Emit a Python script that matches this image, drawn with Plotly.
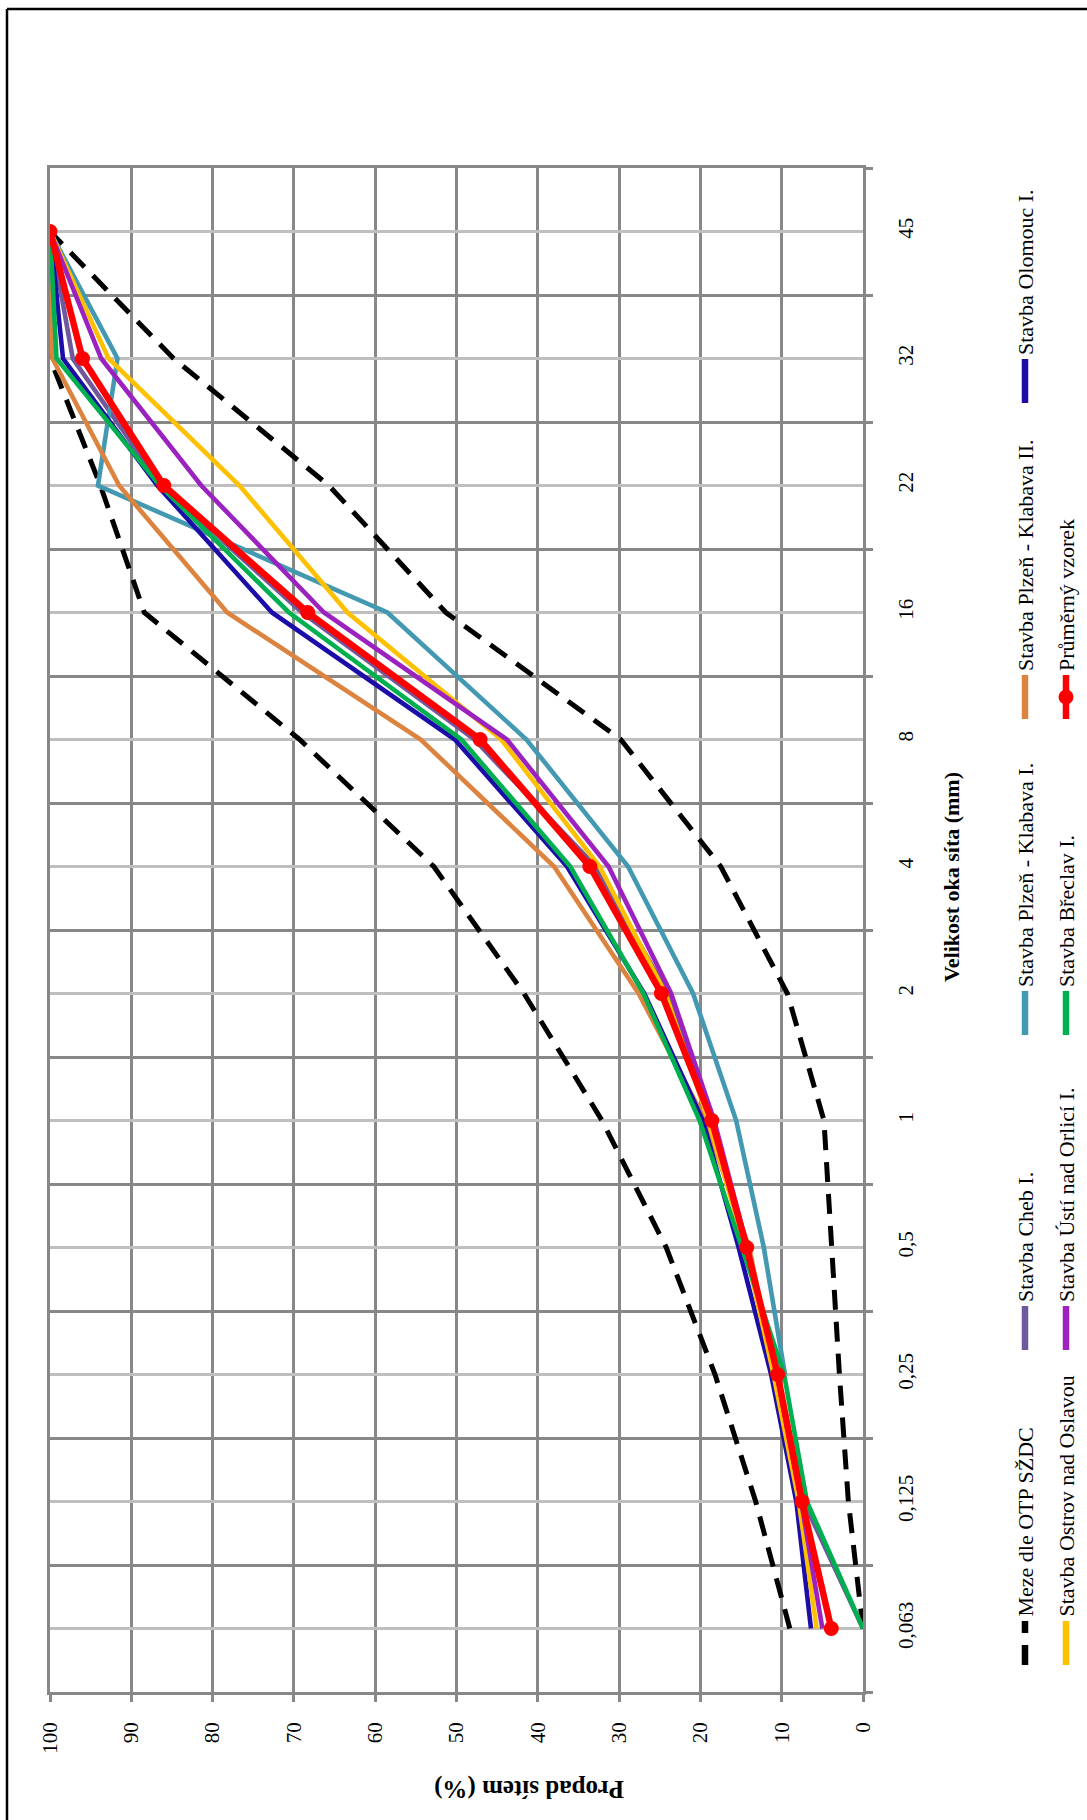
import plotly.graph_objects as go

# ---------------- data ----------------
categories = ["0,063", "0,125", "0,25", "0,5", "1", "2", "4", "8", "16", "22", "32", "45"]
pct_ticks = [0, 10, 20, 30, 40, 50, 60, 70, 80, 90, 100]

meze_upper = [9.0, 13.2, 18.2, 24.2, 32.1, 41.7, 52.8, 69.3, 88.4, 93.8, 100, 100]
meze_lower = [0.0, 1.8, 2.9, 3.9, 4.8, 9.3, 17.5, 29.8, 51.3, 65.7, 84.8, 100]

cheb = [0.0, 7.3, 10.5, 14.4, 18.4, 24.0, 32.9, 47.8, 69.0, 86.3, 97.2, 100]
klabava1 = [None, None, 9.6, 12.2, 15.6, 20.9, 28.9, 41.4, 58.5, 94.1, 91.7, 100]
klabava2 = [None, None, 10.8, 14.0, 19.4, 27.6, 38.0, 54.4, 78.2, 91.5, 99.7, 100]
olomouc = [6.4, 8.2, 11.3, 15.3, 19.7, 26.9, 36.4, 50.2, 72.7, 86.8, 98.4, 100]
ostrov = [5.7, 7.9, 11.0, 14.5, 19.0, 24.3, 32.4, 44.5, 63.4, 76.7, 92.8, 100]
usti = [5.0, 7.6, 10.6, 14.2, 18.3, 23.6, 31.3, 43.8, 66.3, 81.4, 93.7, 100]
breclav = [0.0, 6.9, 9.7, 14.9, 20.1, 27.0, 36.0, 49.4, 70.6, 86.5, 99.2, 100]
prumer = [3.9, 7.5, 10.5, 14.3, 18.6, 24.8, 33.6, 47.1, 68.3, 86.0, 96.0, 100]

names = {
    "meze": "Meze dle OTP SŽDC",
    "cheb": "Stavba Cheb I.",
    "klabava1": "Stavba Plzeň - Klabava I.",
    "klabava2": "Stavba Plzeň - Klabava II.",
    "olomouc": "Stavba Olomouc I.",
    "ostrov": "Stavba Ostrov nad Oslavou",
    "usti": "Stavba Ústí nad Orlicí I.",
    "breclav": "Stavba Břeclav I.",
    "prumer": "Průměrný vzorek",
}

# ---------------- style ----------------
FONT = "Liberation Serif"
GRID = "#878787"
LIGHT = "#bfbfbf"
colors = {
    "meze": "#000000",
    "cheb": "#6f589b",
    "klabava1": "#4399b1",
    "klabava2": "#dc843f",
    "olomouc": "#1c0ca8",
    "ostrov": "#ffc000",
    "usti": "#9c22c0",
    "breclav": "#00b050",
    "prumer": "#ff0000",
}
DASH = "20px,12px"

W, H = 1087, 1820
ML, MR, MT, MB = 50, 224, 168, 128
PW, PH = W - ML - MR, H - MT - MB


def px(x, y):
    return (x - ML) / PW, (H - MB - y) / PH


idx = list(range(len(categories)))

fig = go.Figure()

series = [
    ("meze", meze_upper), ("meze", meze_lower),
    ("cheb", cheb), ("klabava1", klabava1), ("klabava2", klabava2),
    ("olomouc", olomouc), ("ostrov", ostrov), ("usti", usti),
    ("breclav", breclav),
]
for key, vals in series:
    fig.add_trace(go.Scatter(
        x=vals, y=idx, mode="lines", name=names[key], showlegend=False,
        line=dict(color=colors[key], width=5 if key == "meze" else 4.6,
                  dash=DASH if key == "meze" else "solid"),
        connectgaps=False,
    ))
fig.add_trace(go.Scatter(
    x=prumer, y=idx, mode="lines+markers", name=names["prumer"], showlegend=False,
    line=dict(color=colors["prumer"], width=6.5),
    marker=dict(color=colors["prumer"], size=15, symbol="circle"),
))

# ---------------- custom rotated legend ----------------
shapes = []
annotations = []
row_x = [1025, 1066]
slot_y = [1665, 1350, 1035, 719, 403]
legend_layout = [
    ("meze", 0, 0), ("cheb", 0, 1), ("klabava1", 0, 2), ("klabava2", 0, 3), ("olomouc", 0, 4),
    ("ostrov", 1, 0), ("usti", 1, 1), ("breclav", 1, 2), ("prumer", 1, 3),
]
SAMPLE = 44
for key, r, s in legend_layout:
    x = row_x[r]
    yb = slot_y[s]
    yt = yb - SAMPLE
    x0p, y0p = px(x, yb)
    _, y1p = px(x, yt)
    shapes.append(dict(
        type="line", xref="paper", yref="paper", x0=x0p, x1=x0p, y0=y0p, y1=y1p,
        line=dict(color=colors[key], width=6.5,
                  dash=DASH if key == "meze" else "solid"),
    ))
    if key == "prumer":
        _, ymp = px(x, (yb + yt) / 2)
        shapes.append(dict(
            type="circle", xref="paper", yref="paper", xsizemode="pixel", ysizemode="pixel",
            xanchor=x0p, yanchor=ymp, x0=-7.5, x1=7.5, y0=-7.5, y1=7.5,
            fillcolor=colors[key], line=dict(color=colors[key], width=0),
        ))
    _, ytp = px(x, yt - 3)
    annotations.append(dict(
        text=names[key], xref="paper", yref="paper", x=x0p, y=ytp,
        xanchor="center", yanchor="bottom", textangle=-90, showarrow=False,
        font=dict(family=FONT, size=22, color="black"), borderpad=0,
    ))

# axis titles
tx, ty = px(951, 877)
annotations.append(dict(
    text="<b>Velikost oka síta (mm)</b>", xref="paper", yref="paper", x=tx, y=ty,
    xanchor="center", yanchor="middle", textangle=-90, showarrow=False,
    font=dict(family=FONT, size=22, color="black"),
))
tx, ty = px(529, 1789)
annotations.append(dict(
    text="<b>Propad sítem (%)</b>", xref="paper", yref="paper", x=tx, y=ty,
    xanchor="center", yanchor="middle", textangle=180, showarrow=False,
    font=dict(family=FONT, size=25, color="black"),
))

# outer frame (left + top edges visible)
fx, fy_top = px(7, 9)
_, fy_bot = px(7, H + 5)
fx_right, _ = px(W + 5, 9)
shapes.append(dict(type="line", xref="paper", yref="paper", x0=fx, x1=fx, y0=fy_top, y1=fy_bot,
                   line=dict(color="black", width=2.5)))
shapes.append(dict(type="line", xref="paper", yref="paper", x0=fx, x1=fx_right, y0=fy_top, y1=fy_top,
                   line=dict(color="black", width=2.5)))

fig.update_layout(
    width=W, height=H,
    margin=dict(l=ML, r=MR, t=MT, b=MB, pad=0),
    paper_bgcolor="white", plot_bgcolor="white",
    font=dict(family=FONT, color="black", size=21),
    showlegend=False,
    shapes=shapes, annotations=annotations,
    xaxis=dict(
        range=[100, 0], tickmode="array", tickvals=pct_ticks,
        ticktext=[str(v) for v in pct_ticks], tickangle=-90,
        ticks="outside", ticklen=7, tickwidth=2.5, tickcolor=GRID,
        showgrid=True, gridcolor=GRID, gridwidth=2.5,
        showline=True, linecolor=GRID, linewidth=2.5, mirror=True,
        zeroline=False, tickfont=dict(family=FONT, size=21, color="black"),
        ticklabelstandoff=12,
    ),
    yaxis=dict(
        range=[-0.5, len(categories) - 0.5], tickmode="array", tickvals=idx,
        ticktext=categories, side="right", tickangle=-90, ticks="",
        showgrid=True, gridcolor=LIGHT, gridwidth=2.5,
        minor=dict(tickmode="linear", tick0=0.5, dtick=1, ticks="outside", ticklen=7,
                   tickwidth=2.5, tickcolor=GRID, showgrid=True, gridcolor=GRID, gridwidth=2.5),
        showline=True, linecolor=GRID, linewidth=2.5, mirror=True,
        zeroline=False, tickfont=dict(family=FONT, size=21, color="black"),
        ticklabelstandoff=22,
    ),
)

fig.write_html("out.html")
